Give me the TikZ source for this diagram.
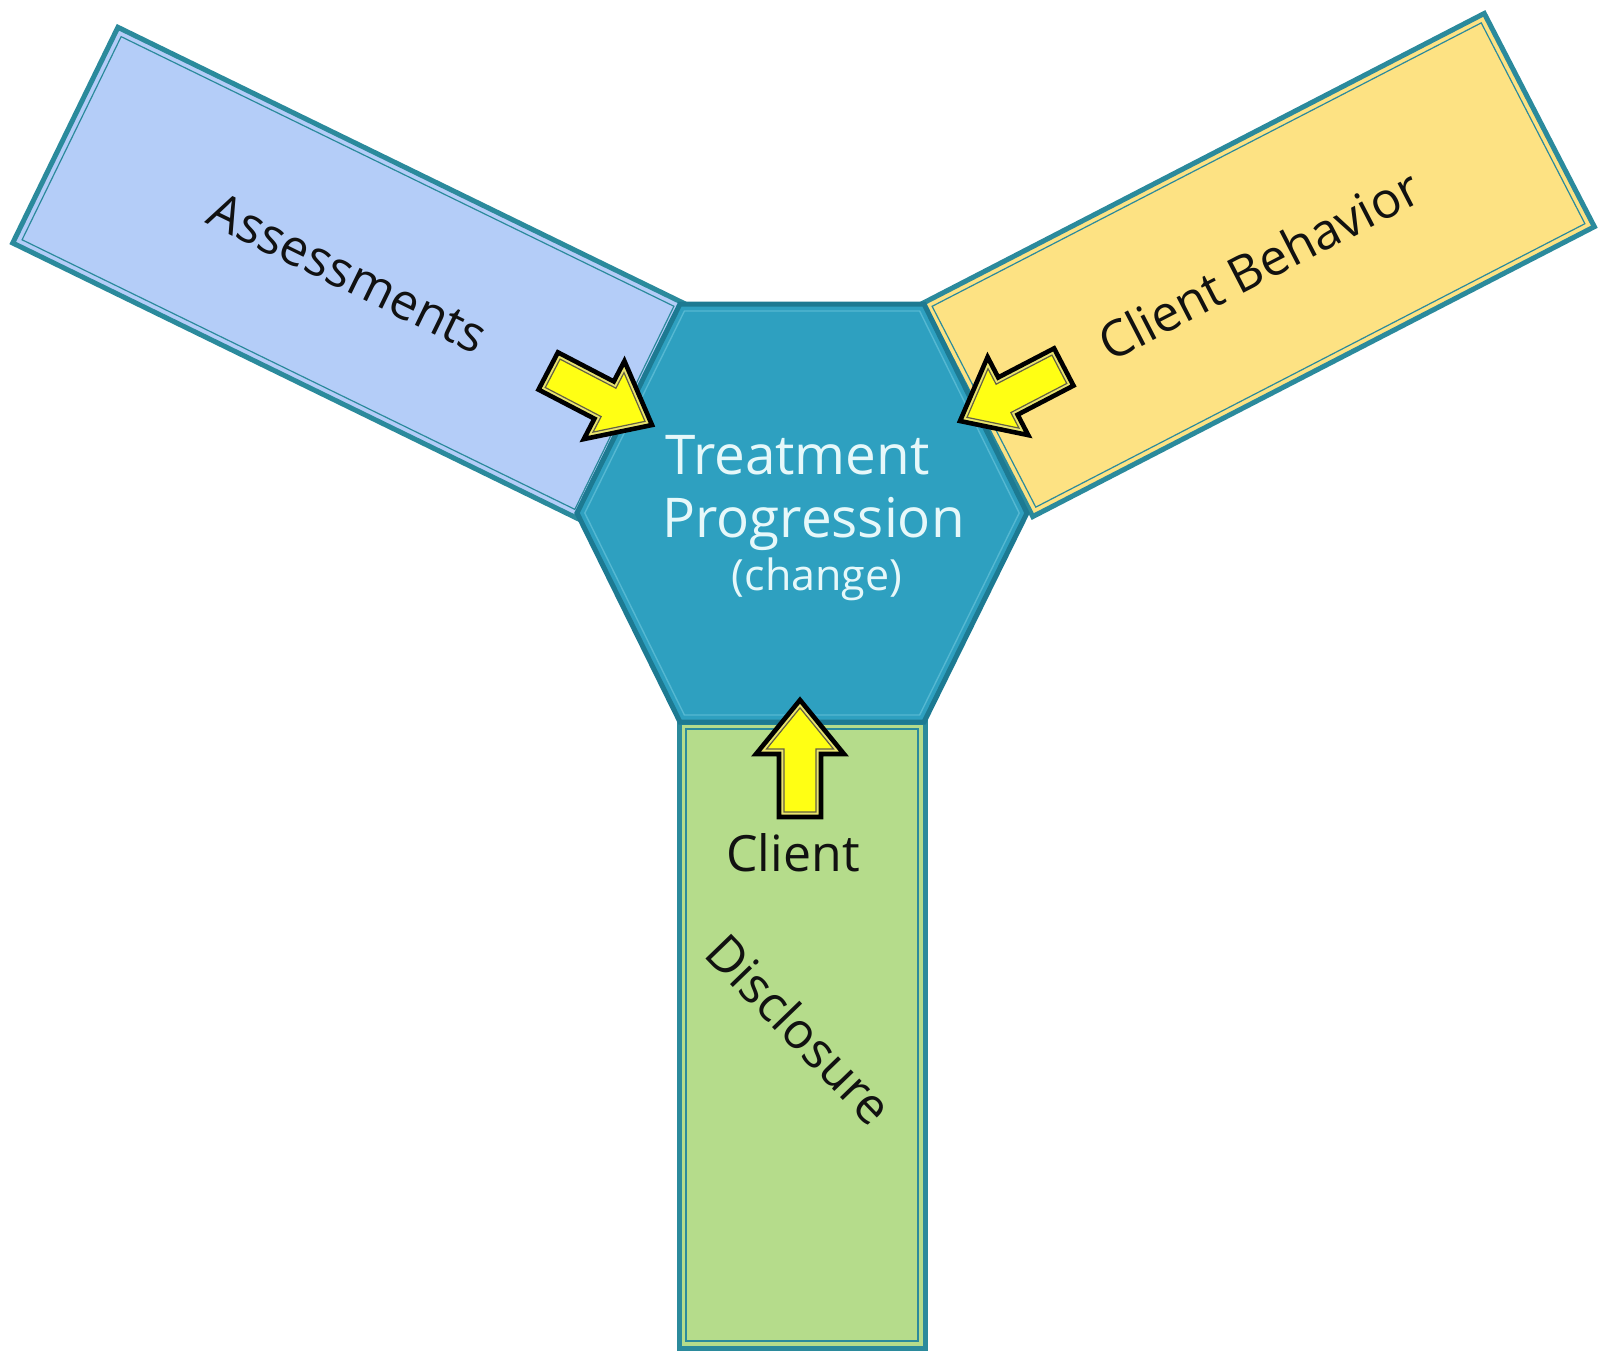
\documentclass[tikz,border=0pt]{standalone}
\usepackage{fontspec}
\setmainfont{Open Sans}
\usetikzlibrary{calc}
\definecolor{hexfill}{HTML}{2EA0C0}
\definecolor{hexline}{HTML}{1D7A92}
\definecolor{hexinner}{HTML}{55B8D2}
\definecolor{armline}{HTML}{2B8A9C}
\definecolor{bluefill}{HTML}{B4CDF8}
\definecolor{yellowfill}{HTML}{FDE283}
\definecolor{greenfill}{HTML}{B5DC8B}
\definecolor{arrowfill}{HTML}{FFFF14}
\definecolor{arrowband}{HTML}{E9E46E}
\definecolor{hextext}{HTML}{E6F8FA}
\definecolor{labeltext}{HTML}{111111}
\tikzset{
  armbox/.style={rectangle, draw=armline, line width=2.5pt, inner sep=0pt, outer sep=0pt},
  arminner/.style={rectangle, draw=armline, line width=0.6pt, inner sep=0pt, outer sep=0pt},
  armlabel/.style={text=labeltext, inner sep=0pt, font=\fontsize{25}{30}\selectfont},
  hexlabel/.style={text=hextext, inner sep=0pt, font=\fontsize{27.4}{32}\selectfont},
  smalllabel/.style={text=hextext, inner sep=0pt, font=\fontsize{21.5}{24}\selectfont},
  hexshape/.style={fill=hexfill, draw=hexline, line width=2.5pt, line join=miter},
  hexinnerline/.style={draw=hexinner, line width=0.7pt},
  blockarrow/.style={fill=arrowband, draw=black, line width=2.3pt, line join=miter},
  blockarrowin/.style={fill=arrowfill, draw=black!70!yellow, line width=0.6pt},
}
\newcommand{\yellowarrow}[2]{%
  \begin{scope}[shift={(#1)}, rotate=#2]
    \draw[blockarrow] (0,0) -- (-54,44) -- (-54,21) -- (-117,21) -- (-117,-21) -- (-54,-21) -- (-54,-44) -- cycle;
    \draw[blockarrowin] (-7.9,0) -- (-49,33.5) -- (-49,16) -- (-112,16) -- (-112,-16) -- (-49,-16) -- (-49,-33.5) -- cycle;
  \end{scope}}
\begin{document}
\begin{tikzpicture}[x=0.5pt, y=-0.5pt]
  \useasboundingbox[fill=white] (0,0) rectangle (1598,1351);

  % arms
  \node[armbox, fill=bluefill, minimum width=314.5pt, minimum height=120pt, rotate=-26] (assess) at (348,273) {};
  \node[arminner, minimum width=307.5pt, minimum height=113pt, rotate=-26] (assessin) at (assess.center) {};

  \node[armbox, fill=yellowfill, minimum width=316pt, minimum height=120pt, rotate=27.3] (behav) at (1258.5,265) {};
  \node[arminner, minimum width=309pt, minimum height=113pt, rotate=27.3] (behavin) at (behav.center) {};

  \node[armbox, fill=greenfill, minimum width=123pt, minimum height=313pt] (discl) at (802,1035) {};
  \node[arminner, minimum width=116pt, minimum height=306pt] (disclin) at (discl.center) {};

  % hexagon
  \coordinate (hTL) at (680,304);
  \coordinate (hTR) at (924,304);
  \coordinate (hR)  at (1027,513);
  \coordinate (hBR) at (924,722);
  \coordinate (hBL) at (680,722);
  \coordinate (hL)  at (577,513);
  \draw[hexshape] (hTL) -- (hTR) -- (hR) -- (hBR) -- (hBL) -- (hL) -- cycle;
  \draw[hexinnerline] (684.4,311) -- (919.6,311) -- (1019.2,513) -- (919.6,715) -- (684.4,715) -- (584.8,513) -- cycle;

  % arrows
  \coordinate (tipA) at (652,425);
  \coordinate (tipB) at (960,421);
  \coordinate (tipC) at (800,700);
  \yellowarrow{tipA}{-27.5}
  \yellowarrow{tipB}{207.5}
  \yellowarrow{tipC}{90}

  % labels
  \node[armlabel, rotate=-26] (assesslbl) at (assess.center) {Assessments};
  \node[armlabel, rotate=27.3] (behavlbl) at (behav.center) {Client Behavior};
  \node[armlabel, anchor=base] (clientlbl) at (793,871) {Client};
  \node[armlabel, rotate=-46] (discllbl) at (800,1029) {Disclosure};

  \node[hexlabel, anchor=base west] (treat) at (665,474) {Treatment};
  \node[hexlabel, anchor=base west] (prog) at (662,537) {Progression};
  \node[smalllabel, anchor=base] (change) at (817,590) {(change)};
\end{tikzpicture}
\end{document}
